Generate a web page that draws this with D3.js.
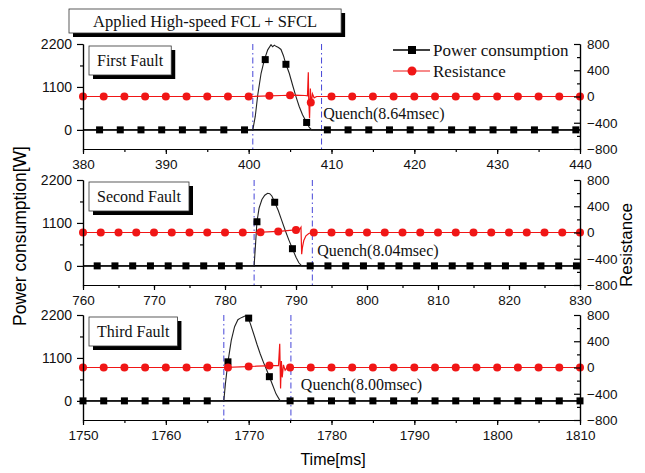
<!DOCTYPE html>
<html>
<head>
<meta charset="utf-8">
<script src="https://cdn.jsdelivr.net/npm/d3@7/dist/d3.min.js"></script>
<style>
body { margin: 0; background: #fff; }
</style>
</head>
<body>
<div id="chart"></div>
<script>
// ---------- data ----------
var panelNames = ["First Fault", "Second Fault", "Third Fault"];
var quenchLabels = ["Quench(8.64msec)", "Quench(8.04msec)", "Quench(8.00msec)"];
var xDomains = [[380, 440], [760, 830], [1750, 1810]];
var xTickLabels = [
  [380, 390, 400, 410, 420, 430, 440],
  [760, 770, 780, 790, 800, 810, 820, 830],
  [1750, 1760, 1770, 1780, 1790, 1800, 1810]
];
var powerTicks = [0, 1100, 2200];
var resistanceTicks = [-800, -400, 0, 400, 800];

// fault start / quench end (dash-dot lines), ms
var faultStart = [400.5, 784.1, 1767.0];
var faultEnd = [408.8, 792.3, 1775.1];
// where the quench note sits (time, resistance)
var quenchNoteT = [409.0, 793.0, 1776.3];
var quenchNoteR = [-250, -270, -265];

// power consumption curves [W]
var power1T = [380, 400.5, 400.8, 401.1, 401.5, 401.9, 402.3, 402.7, 402.9, 403.1, 403.3, 403.6, 403.9, 404.2, 404.5, 404.9, 405.3, 405.7, 406.1, 406.5, 407.0, 407.3, 407.6, 440];
var power1W = [0, 0, 350, 900, 1450, 1800, 2050, 2180, 2130, 2170, 2140, 2110, 2060, 1900, 1680, 1450, 1150, 860, 600, 390, 190, 70, 0, 0];
var power2T = [760, 784.1, 784.3, 784.5, 784.8, 785.2, 785.6, 786.0, 786.3, 786.6, 787.0, 787.5, 788.0, 788.5, 789.0, 789.5, 790.0, 790.4, 790.8, 830];
var power2W = [0, 0, 550, 1130, 1480, 1700, 1810, 1860, 1850, 1790, 1630, 1420, 1160, 900, 660, 440, 220, 80, 0, 0];
var power3T = [1750, 1767.0, 1767.2, 1767.5, 1767.9, 1768.3, 1768.7, 1769.0, 1769.3, 1769.6, 1769.9, 1770.2, 1770.6, 1771.0, 1771.4, 1771.8, 1772.2, 1772.5, 1772.9, 1773.3, 1773.8, 1810];
var power3W = [0, 0, 450, 1000, 1550, 1900, 2080, 2120, 2150, 2180, 2140, 1980, 1720, 1450, 1200, 980, 780, 620, 400, 180, 0, 0];

// resistance curves
var res1T = [380, 400.5, 402.5, 404, 405.5, 406.8, 407.1, 407.2, 407.25, 407.35, 407.45, 407.55, 407.7, 407.9, 408.2, 440];
var res1V = [0, 0, 10, 15, 20, 15, 10, 370, -60, -330, 120, -120, 40, -20, 0, 0];
var res2T = [760, 784.1, 786, 788, 789.5, 790.5, 790.7, 790.8, 790.9, 791.1, 791.4, 791.8, 792.3, 830];
var res2V = [0, 0, 10, 20, 35, 45, 80, -330, -230, -120, -50, -15, 0, 0];
var res3T = [1750, 1767, 1769, 1771, 1773, 1773.6, 1773.75, 1773.85, 1773.95, 1774.05, 1774.2, 1774.4, 1774.7, 1775.1, 1810];
var res3V = [0, 0, 10, 20, 30, 30, 360, -320, 100, -150, 40, -40, 10, 0, 0];

// marker samples
var pMark1T = [382, 384.5, 387, 389.5, 392, 394.5, 397, 399.5, 402, 404.5, 407, 409.5, 412, 414.5, 417, 419.5, 422, 424.5, 427, 429.5, 432, 434.5, 437, 439.5];
var pMark1W = [0, 0, 0, 0, 0, 0, 0, 0, 1800, 1680, 190, 0, 0, 0, 0, 0, 0, 0, 0, 0, 0, 0, 0, 0];
var rMark1T = [380, 382.5, 385, 387.5, 390, 392.5, 395, 397.5, 400, 402.5, 405, 407.5, 410, 412.5, 415, 417.5, 420, 422.5, 425, 427.5, 430, 432.5, 435, 437.5, 440];
var rMark1V = [0, 0, 0, 0, 0, 0, 0, 0, 0, 10, 20, -90, 0, 0, 0, 0, 0, 0, 0, 0, 0, 0, 0, 0, 0];

var pMark2T = [762, 764.5, 767, 769.5, 772, 774.5, 777, 779.5, 782, 784.5, 787, 789.5, 792, 794.5, 797, 799.5, 802, 804.5, 807, 809.5, 812, 814.5, 817, 819.5, 822, 824.5, 827, 829.5];
var pMark2W = [0, 0, 0, 0, 0, 0, 0, 0, 0, 1130, 1630, 440, 0, 0, 0, 0, 0, 0, 0, 0, 0, 0, 0, 0, 0, 0, 0, 0];
var rMark2T = [760, 762.5, 765, 767.5, 770, 772.5, 775, 777.5, 780, 782.5, 785, 787.5, 790, 792.5, 795, 797.5, 800, 802.5, 805, 807.5, 810, 812.5, 815, 817.5, 820, 822.5, 825, 827.5, 830];
var rMark2V = [0, 0, 0, 0, 0, 0, 0, 0, 0, 0, 5, 15, 40, 0, 0, 0, 0, 0, 0, 0, 0, 0, 0, 0, 0, 0, 0, 0, 0];

var pMark3T = [1750, 1752.5, 1755, 1757.5, 1760, 1762.5, 1765, 1767.5, 1770, 1772.5, 1775, 1777.5, 1780, 1782.5, 1785, 1787.5, 1790, 1792.5, 1795, 1797.5, 1800, 1802.5, 1805, 1807.5, 1810];
var pMark3W = [0, 0, 0, 0, 0, 0, 0, 1000, 2120, 620, 0, 0, 0, 0, 0, 0, 0, 0, 0, 0, 0, 0, 0, 0, 0];
var rMark3T = [1750, 1752.5, 1755, 1757.5, 1760, 1762.5, 1765, 1767.5, 1770, 1772.5, 1775, 1777.5, 1780, 1782.5, 1785, 1787.5, 1790, 1792.5, 1795, 1797.5, 1800, 1802.5, 1805, 1807.5, 1810];
var rMark3V = [0, 0, 0, 0, 0, 0, 0, 0, 15, 30, 0, 0, 0, 0, 0, 0, 0, 0, 0, 0, 0, 0, 0, 0, 0];

// ---------- layout ----------
var width = 645, height = 473;
var plot_left = 83, plot_right = 580;
var panel_tops = [44, 180, 315];
var panel_height = 105;
var sans = "'Liberation Sans', Arial, sans-serif";
var serif = "'Liberation Serif', 'Times New Roman', serif";
var red = '#f01616', blue = '#4646d8';

var panels = [
  { pT: power1T, pW: power1W, rT: res1T, rV: res1V, pmT: pMark1T, pmW: pMark1W, rmT: rMark1T, rmV: rMark1V },
  { pT: power2T, pW: power2W, rT: res2T, rV: res2V, pmT: pMark2T, pmW: pMark2W, rmT: rMark2T, rmV: rMark2V },
  { pT: power3T, pW: power3W, rT: res3T, rV: res3V, pmT: pMark3T, pmW: pMark3W, rmT: rMark3T, rmV: rMark3V }
];

var svg = d3.select('#chart').append('svg')
  .attr('width', width).attr('height', height)
  .style('background', '#fff');

// boxed label with a drop shadow
function shadowBox(parent, x, y, label, size, padX, h) {
  var b = parent.append('g');
  var shadow = b.append('rect').attr('x', x + 4).attr('y', y + 4).attr('height', h).attr('fill', '#000');
  var box = b.append('rect').attr('x', x).attr('y', y).attr('height', h)
    .attr('fill', '#fff').attr('stroke', '#333').attr('stroke-width', 0.8);
  var t = b.append('text').text(label)
    .attr('font-family', serif).attr('font-size', size).attr('fill', '#111')
    .attr('x', x + padX).attr('y', y + h / 2).attr('dy', '0.35em');
  var w = t.node().getComputedTextLength() + 2 * padX;
  shadow.attr('width', w);
  box.attr('width', w);
}

panels.forEach(function(p, i) {
  var top = panel_tops[i], bottom = top + panel_height;
  var x = d3.scaleLinear().domain(xDomains[i]).range([plot_left, plot_right]);
  var yP = d3.scaleLinear().domain([-490, 2200]).range([bottom, top]);
  var yR = d3.scaleLinear().domain([-800, 800]).range([bottom, top]);
  var g = svg.append('g');

  // fault / quench markers
  [faultStart[i], faultEnd[i]].forEach(function(t) {
    g.append('line').attr('x1', x(t)).attr('x2', x(t)).attr('y1', top).attr('y2', bottom)
      .attr('stroke', blue).attr('stroke-width', 1).attr('stroke-dasharray', '6,3,1.5,3');
  });

  // zero power baseline
  g.append('line').attr('x1', x(xDomains[i][0])).attr('x2', x(xDomains[i][1]))
    .attr('y1', yP(0)).attr('y2', yP(0)).attr('stroke', '#000').attr('stroke-width', 1.6);

  var pLine = d3.line().x(function(d, k) { return x(p.pT[k]); }).y(function(d) { return yP(d); });
  g.append('path').datum(p.pW).attr('d', pLine).attr('fill', 'none')
    .attr('stroke', '#222').attr('stroke-width', 1.1);

  var rLine = d3.line().x(function(d, k) { return x(p.rT[k]); }).y(function(d) { return yR(d); });
  g.append('path').datum(p.rV).attr('d', rLine).attr('fill', 'none')
    .attr('stroke', red).attr('stroke-width', 1.2);

  // markers
  g.selectAll('rect.pm').data(p.pmW).enter().append('rect')
    .attr('x', function(d, k) { return x(p.pmT[k]) - 3.5; })
    .attr('y', function(d) { return yP(d) - 3.5; })
    .attr('width', 7).attr('height', 7).attr('fill', '#000');
  g.selectAll('circle.rm').data(p.rmV).enter().append('circle')
    .attr('cx', function(d, k) { return x(p.rmT[k]); })
    .attr('cy', function(d) { return yR(d); })
    .attr('r', 4).attr('fill', red);

  // axes
  var xMinor = d3.range(xDomains[i][0], xDomains[i][1] + 0.1, 5);
  g.append('g').attr('transform', 'translate(0,' + bottom + ')')
    .call(d3.axisBottom(x).tickValues(xMinor).tickSize(3).tickSizeOuter(0).tickFormat(''));
  g.append('g').attr('class', 'xax').attr('transform', 'translate(0,' + bottom + ')')
    .call(d3.axisBottom(x).tickValues(xTickLabels[i]).tickSize(5).tickSizeOuter(0).tickPadding(5).tickFormat(d3.format('d')));

  g.append('g').attr('transform', 'translate(' + plot_left + ',0)')
    .call(d3.axisLeft(yP).tickValues([550, 1650]).tickSize(3).tickSizeOuter(0).tickFormat(''));
  g.append('g').attr('class', 'lax').attr('transform', 'translate(' + plot_left + ',0)')
    .call(d3.axisLeft(yP).tickValues(powerTicks).tickSize(6).tickSizeOuter(0).tickPadding(5).tickFormat(d3.format('d')));

  g.append('g').attr('transform', 'translate(' + plot_right + ',0)')
    .call(d3.axisRight(yR).tickValues([-600, -200, 200, 600]).tickSizeInner(-3).tickSizeOuter(0).tickFormat(''));
  g.append('g').attr('class', 'rax').attr('transform', 'translate(' + plot_right + ',0)')
    .call(d3.axisRight(yR).tickValues(resistanceTicks).tickSizeInner(-6).tickSizeOuter(0).tickPadding(7).tickFormat(d3.format('d')));

  g.selectAll('.domain, .tick line').attr('stroke', '#000').attr('stroke-width', 1.2);
  g.selectAll('.tick text').attr('font-family', sans).attr('font-size', 13.5).attr('fill', '#111');
  g.selectAll('.lax .tick text').attr('font-size', 14);

  // panel label and quench note
  shadowBox(g, plot_left + 6, top + 2, panelNames[i], 16, 8, 29);
  g.append('text').text(quenchLabels[i])
    .attr('x', x(quenchNoteT[i])).attr('y', yR(quenchNoteR[i])).attr('dy', '0.35em')
    .attr('font-family', serif).attr('font-size', 16).attr('fill', '#111');

  // legend lives in the first panel
  if (i === 0) {
    var lg = g.append('g').attr('transform', 'translate(393,' + (top + 6) + ')');
    lg.append('line').attr('x1', 0).attr('x2', 37).attr('y1', 0).attr('y2', 0).attr('stroke', '#000').attr('stroke-width', 1.5);
    lg.append('rect').attr('x', 15).attr('y', -4).attr('width', 8).attr('height', 8).attr('fill', '#000');
    lg.append('text').text('Power consumption').attr('x', 40).attr('y', 0).attr('dy', '0.35em')
      .attr('font-family', serif).attr('font-size', 17).attr('fill', '#111');
    lg.append('line').attr('x1', 0).attr('x2', 37).attr('y1', 21).attr('y2', 21).attr('stroke', red).attr('stroke-width', 1.2);
    lg.append('circle').attr('cx', 19).attr('cy', 21).attr('r', 4.5).attr('fill', red);
    lg.append('text').text('Resistance').attr('x', 40).attr('y', 21).attr('dy', '0.35em')
      .attr('font-family', serif).attr('font-size', 17).attr('fill', '#111');
  }
});

// title box
shadowBox(svg, 69, 9, 'Applied High-speed FCL + SFCL', 16.5, 24, 24);

// axis titles
svg.append('text').text('Power consumption[W]')
  .attr('transform', 'translate(26,236) rotate(-90)')
  .attr('text-anchor', 'middle').attr('font-family', sans).attr('font-size', 17.5);
svg.append('text').text('Resistance')
  .attr('transform', 'translate(632,245) rotate(-90)')
  .attr('text-anchor', 'middle').attr('font-family', sans).attr('font-size', 17);
svg.append('text').text('Time[ms]')
  .attr('x', 333).attr('y', 465)
  .attr('text-anchor', 'middle').attr('font-family', sans).attr('font-size', 16);
</script>
</body>
</html>
